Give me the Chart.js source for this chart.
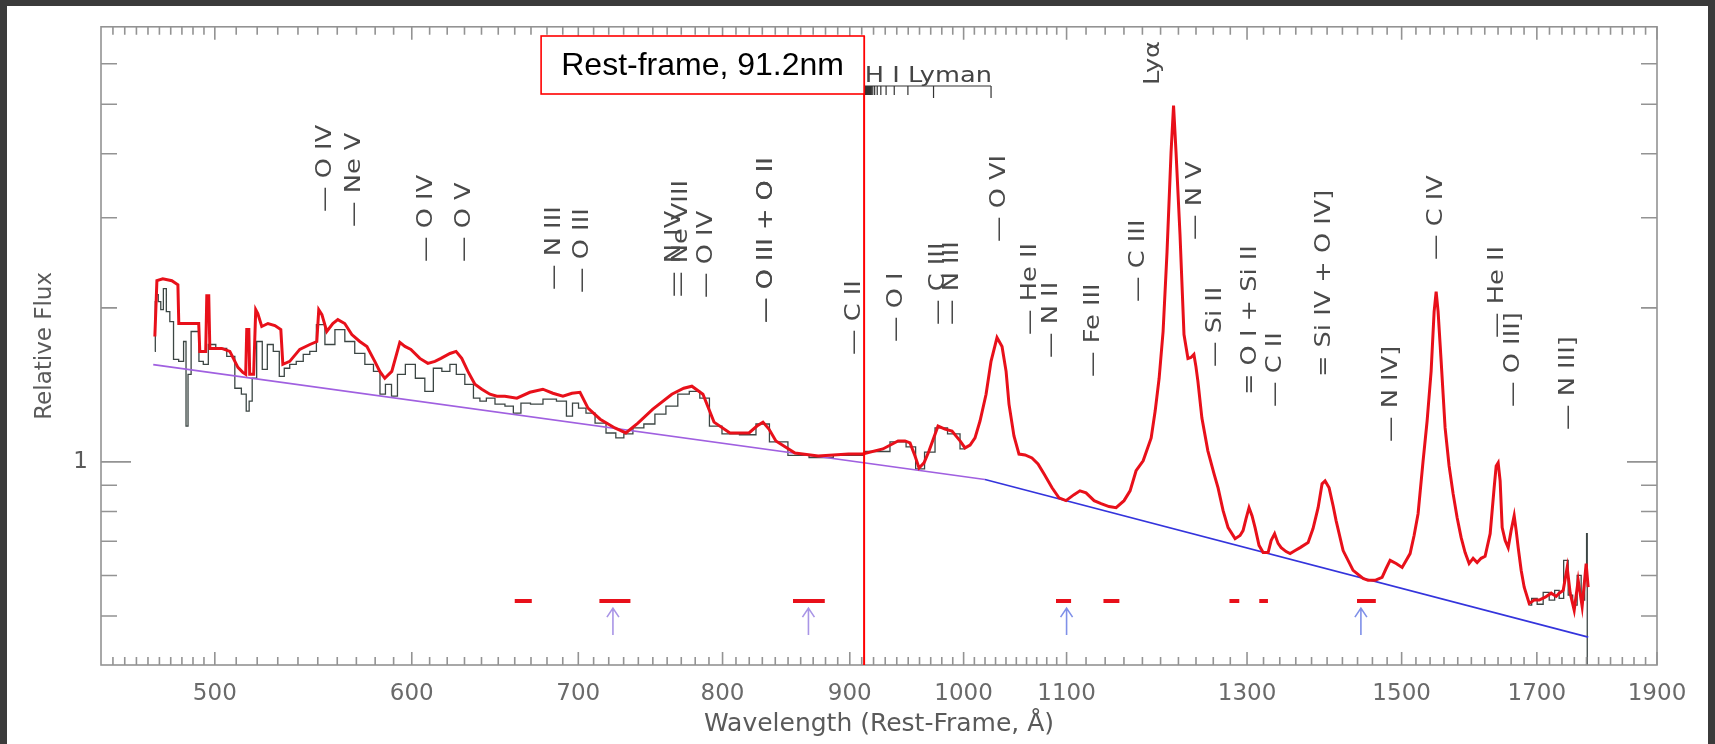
<!DOCTYPE html>
<html>
<head>
<meta charset="utf-8">
<script src="https://cdn.jsdelivr.net/npm/chart.js@4.4.1/dist/chart.umd.min.js"></script>
<style>
html,body{margin:0;padding:0;background:#3b3b3b;overflow:hidden}
canvas{display:block}
</style>
</head>
<body>
<canvas id="c" width="1715" height="744" style="width:1715px;height:744px"></canvas>
<script>
// ---------- DATA (rest-frame wavelength in Å, relative flux) ----------
const redWave = [473.0,473.9,476.5,480.5,483.2,483.6,492.6,493.1,495.8,496.3,497.2,497.7,503.2,507.0,510.8,513.1,514.5,515.0,516.0,516.4,
518.3,519.3,520.3,522.2,525.2,528.6,531.5,532.5,535.9,540.9,546.0,549.5,550.5,552.1,554.6,557.7,560.3,563.9,567.6,571.8,
575.6,579.8,582.5,585.2,589.0,593.4,596.2,599.5,604.5,609.0,613.0,616.4,621.6,625.1,628.4,632.0,636.1,640.2,645.0,649.2,
654.0,661.3,669.3,677.4,683.7,690.1,695.9,701.1,706.3,714.3,724.1,731.5,739.7,750.0,763.3,771.8,777.6,785.6,793.7,805.5,
819.8,825.9,830.5,835.1,840.5,855.5,874.0,898.9,910.8,928.0,941.1,947.2,951.6,956.0,959.6,964.0,968.5,976.6,982.9,989.3,
996.7,1001.3,1006.0,1010.6,1015.3,1021.0,1025.7,1031.4,1036.2,1040.1,1042.9,1047.7,1052.6,1058.5,1065.3,1071.3,1077.2,1085.3,1092.3,1099.4,
1107.6,1113.7,1120.0,1128.4,1135.7,1144.1,1151.6,1160.1,1166.6,1173.1,1180.8,1189.6,1194.0,1198.4,1202.8,1207.2,1211.7,1214.5,1217.3,1221.8,
1226.3,1230.8,1234.2,1237.6,1239.9,1242.2,1246.8,1253.7,1260.9,1265.6,1271.5,1277.4,1285.7,1291.6,1295.2,1298.8,1302.4,1306.0,1309.7,1314.5,
1319.5,1325.6,1329.3,1333.6,1337.9,1341.7,1347.9,1352.9,1359.2,1365.5,1375.6,1381.9,1388.4,1393.5,1397.4,1402.6,1407.8,1411.7,1420.9,1434.1,
1447.4,1454.1,1463.6,1473.1,1478.6,1484.1,1492.4,1500.7,1511.8,1517.4,1523.0,1530.1,1535.8,1541.5,1545.8,1548.7,1551.5,1555.9,1561.6,1567.4,
1573.2,1579.1,1584.9,1590.8,1596.7,1602.6,1608.6,1614.5,1620.5,1628.1,1634.1,1637.2,1640.2,1643.2,1646.3,1650.9,1655.5,1660.0,1664.7,1667.8,
1670.9,1675.5,1680.2,1688.0,1695.8,1703.7,1713.2,1722.7,1730.7,1735.5,1742.0,1748.4,1753.3,1759.8,1766.3,1772.8,1779.4,1782.7];
const redFlux = [1.758,2.260,2.280,2.260,2.219,1.864,1.864,1.644,1.644,2.113,2.113,1.666,1.666,1.644,1.530,1.496,1.483,1.814,1.814,1.483,
1.483,1.984,1.949,1.839,1.864,1.847,1.814,1.551,1.572,1.659,1.696,1.719,1.984,1.940,1.798,1.864,1.897,1.864,1.774,1.719,
1.681,1.572,1.503,1.457,1.503,1.712,1.681,1.659,1.593,1.558,1.572,1.593,1.629,1.644,1.593,1.503,1.418,1.387,1.356,1.344,
1.344,1.332,1.368,1.387,1.362,1.344,1.362,1.368,1.274,1.212,1.165,1.139,1.191,1.268,1.356,1.393,1.406,1.356,1.196,1.139,
1.139,1.175,1.196,1.159,1.099,1.041,1.027,1.036,1.036,1.060,1.099,1.099,1.089,1.027,0.973,0.996,1.051,1.175,1.159,1.149,
1.099,1.065,1.079,1.114,1.202,1.356,1.572,1.750,1.681,1.503,1.297,1.124,1.036,1.032,1.018,0.991,0.948,0.890,0.851,0.840,
0.863,0.878,0.870,0.840,0.829,0.818,0.814,0.840,0.878,0.961,1.005,1.114,1.257,1.457,1.798,2.573,4.027,4.970,4.027,2.776,
1.774,1.593,1.600,1.622,1.537,1.437,1.218,1.051,0.948,0.890,0.803,0.744,0.708,0.718,0.734,0.775,0.814,0.785,0.744,0.687,
0.665,0.665,0.702,0.724,0.693,0.680,0.668,0.662,0.671,0.680,0.696,0.741,0.814,0.906,0.918,0.890,0.821,0.768,0.671,0.614,
0.592,0.587,0.587,0.595,0.619,0.642,0.633,0.622,0.662,0.718,0.792,1.005,1.202,1.503,1.967,2.151,1.967,1.572,1.165,0.982,
0.867,0.778,0.712,0.665,0.633,0.648,0.636,0.648,0.654,0.724,0.890,0.982,0.996,0.918,0.744,0.702,0.680,0.734,0.785,0.734,
0.680,0.614,0.569,0.529,0.537,0.537,0.544,0.554,0.546,0.554,0.561,0.622,0.554,0.513,0.587,0.522,0.633,0.569];

// uncorrected composite (dark histogram), visible where it departs from the red one
const grayWave = [473.0,473.4,473.9,475.1,476.1,477.4,478.7,480.5,482.0,485.1,486.4,487.3,488.2,490.1,492.3,493.1,496.3,497.7,503.2,507.9,
510.8,514.1,515.4,516.9,518.3,521.2,523.7,526.1,529.5,532.0,534.4,537.4,540.9,544.4,547.5,551.1,556.2,561.4,566.5,571.8,
577.2,581.0,584.2,586.9,590.8,593.4,599.5,604.5,610.1,614.1,619.8,623.3,627.2,633.2,637.3,640.8,645.0,651.1,657.0,661.3,
666.3,673.1,681.9,690.1,694.6,697.9,702.4,707.6,714.3,722.1,727.4,732.9,739.7,747.9,755.0,763.3,771.8,779.7,787.0,793.7,
805.5,819.8,830.5,840.5,859.4,874.0,898.9,925.5,942.8,953.5,959.6,969.4,978.4,992.1,1001.3,1300,
1688.0,1695.8,1705.2,1714.8,1724.3,1732.3,1738.7,1746.8,1753.3,1761.4,1767.9,1774.5,1779.4,1780.8,1781.6];
const grayFlux = [1.644,2.057,2.122,2.057,1.984,2.180,1.966,1.880,1.586,1.572,1.719,1.175,1.483,1.798,1.798,1.572,1.551,1.696,1.666,1.608,
1.393,1.356,1.257,1.314,1.457,1.719,1.517,1.696,1.644,1.470,1.524,1.551,1.572,1.622,1.644,1.855,1.696,1.814,1.719,1.629,
1.551,1.503,1.356,1.418,1.344,1.483,1.551,1.457,1.374,1.524,1.503,1.551,1.483,1.418,1.332,1.314,1.332,1.297,1.285,1.245,
1.303,1.297,1.326,1.314,1.229,1.303,1.274,1.245,1.191,1.139,1.114,1.134,1.165,1.186,1.240,1.285,1.356,1.374,1.332,1.175,
1.134,1.130,1.186,1.094,1.030,1.020,1.030,1.048,1.094,1.070,0.969,1.045,1.165,1.134,1.060,null,
0.525,0.541,0.527,0.556,0.537,0.561,0.541,0.642,0.549,0.525,0.600,0.537,0.587,0.724,0.380];

// broken power-law continuum
const contWave = [472.3, 1020.0, 1782.8];
const contFlux = [1.549, 0.924, 0.4546];

// continuum windows (red bars) and their level
const windowStart = [660.0, 713.8, 853.9, 1089.3, 1138.2, 1279.0, 1314.8, 1439.3];
const windowEnd   = [670.5, 734.6, 879.4, 1104.6, 1155.1, 1290.7, 1325.4, 1464.6];
const windowLevel = 0.535;

// arrows
const arrowWave = [722.8, 866.2, 1100.0, 1444.5];
const arrowTail = 0.459, arrowHead = 0.518;

// Lyman limit marker
const restFrameLine = 912;
const lymanLines = [1025.72,972.54,949.74,937.80,930.75,926.23,923.15,920.96,919.35,918.13,917.18,916.43,915.82,915.33,914.92,
914.58,914.29,914.04,913.83,913.64,913.48,913.34,913.21,913.10,913.00,912.91,912.83,912.75,912.68,912.62,912.56,912.46,912.34,912.20,912.05,911.90,911.75];

// emission-line identifications
const lineLabels = ["— O IV","— Ne V","— O IV","— O V","— N III","— O III","— N IV","— Ne VIII","— O IV","— O III + O II",
"— C II","— O I","— C III","— N III","— O VI","— He II","— N II","— Fe III","— C III","Lyα",
"— N V","— Si II","= O I + Si II","— C II","= Si IV + O IV]","— N IV]","— C IV","— He II","— O III]","— N III]"];
const lineWaves = [554,569,608,630,685,703,765,770,788,833,
904,939.6,977,990,1034,1064,1085,1128,1176,1192,
1240,1263,1304,1335,1397,1486,1549,1640,1663,1750];

// axis ticks
const xTickLabels = [500,600,700,800,900,1000,1100,1300,1500,1700,1900];
const yTickLabels = [1];
const yMinorTicks = [0.5,0.6,0.7,0.8,0.9,2,3,4,5,6];

// ---------- LAYOUT (pixel positions of annotation text bottoms) ----------
const labelBottomPx = [212,227,262,262,290,293,297,297,298,323,
355,342,325,325,242,335,358,377,302,85,
240,367,395,407,377,442,260,338,407,430];

const xMinorTicks = [];
for (let v = 455; v < 500; v += 5) xMinorTicks.push(v);
for (let v = 510; v < 1100; v += 10) if (v % 100) xMinorTicks.push(v);
for (let v = 1120; v < 1900; v += 20) if (v % 200 !== 100) xMinorTicks.push(v);

const pts = (w, f) => w.map((x, i) => ({x: x, y: f[i]}));
const windowData = [];
windowStart.forEach((s, i) => {
  windowData.push({x: s, y: windowLevel});
  windowData.push({x: windowEnd[i], y: windowLevel});
  windowData.push({x: windowEnd[i] + 0.5, y: null});
});

function rotText(c, text, x, yb, color) {
  c.save();
  c.translate(x, yb);
  c.rotate(-Math.PI / 2);
  c.scale(1.22, 1);
  c.font = '21px "DejaVu Sans"';
  c.fillStyle = color;
  c.textAlign = 'left';
  c.textBaseline = 'middle';
  c.fillText(text, 0, 0);
  c.restore();
}

const decor = {
  id: 'decor',
  beforeDraw(chart) {
    const c = chart.ctx;
    c.save();
    c.fillStyle = '#3b3b3b';
    c.fillRect(0, 0, chart.width, chart.height);
    c.fillStyle = '#ffffff';
    c.fillRect(7, 6, 1701, 738);
    c.restore();
  },
  afterDatasetsDraw(chart) {
    const c = chart.ctx, xs = chart.scales.x, ys = chart.scales.y, a = chart.chartArea;
    c.save();
    // frame + ticks
    c.strokeStyle = '#939393';
    c.lineWidth = 1.6;
    c.strokeRect(a.left, a.top, a.right - a.left, a.bottom - a.top);
    c.beginPath();
    xMinorTicks.forEach(v => { const p = xs.getPixelForValue(v);
      c.moveTo(p, a.bottom); c.lineTo(p, a.bottom - 8); c.moveTo(p, a.top); c.lineTo(p, a.top + 8); });
    xTickLabels.forEach(v => { const p = xs.getPixelForValue(v);
      c.moveTo(p, a.bottom); c.lineTo(p, a.bottom - 13); c.moveTo(p, a.top); c.lineTo(p, a.top + 13); });
    yMinorTicks.forEach(v => { const p = ys.getPixelForValue(v);
      c.moveTo(a.left, p); c.lineTo(a.left + 16, p); c.moveTo(a.right, p); c.lineTo(a.right - 16, p); });
    yTickLabels.forEach(v => { const p = ys.getPixelForValue(v);
      c.moveTo(a.left, p); c.lineTo(a.left + 30, p); c.moveTo(a.right, p); c.lineTo(a.right - 30, p); });
    c.stroke();

    // arrows
    arrowWave.forEach((w, i) => {
      const p = xs.getPixelForValue(w), yt = ys.getPixelForValue(arrowTail), yh = ys.getPixelForValue(arrowHead);
      c.strokeStyle = i < 2 ? '#a995e6' : '#7f90e8';
      c.lineWidth = 1.6;
      c.beginPath();
      c.moveTo(p, yt); c.lineTo(p, yh);
      c.moveTo(p - 6, yh + 9); c.lineTo(p, yh); c.lineTo(p + 6, yh + 9);
      c.stroke();
    });

    // line identifications
    lineLabels.forEach((t, i) => {
      const p = xs.getPixelForValue(lineWaves[i]);
      rotText(c, t, p, labelBottomPx[i], '#4a4a4a');
      if (i === 9) rotText(c, t, p + 0.8, labelBottomPx[i], '#4a4a4a');
    });

    // H I Lyman series marker
    const lx0 = xs.getPixelForValue(911.75), lx1 = xs.getPixelForValue(1025.72);
    c.strokeStyle = '#333';
    c.lineWidth = 1.2;
    c.beginPath();
    c.moveTo(lx0, 86); c.lineTo(lx1, 86);
    lymanLines.forEach((w, i) => { const p = xs.getPixelForValue(w);
      c.moveTo(p, 86); c.lineTo(p, 86 + (i < 2 ? 12 : 9)); });
    c.stroke();
    c.save();
    c.translate(lx0 + 1, 82);
    c.scale(1.22, 1);
    c.font = '21px "DejaVu Sans"';
    c.fillStyle = '#444';
    c.textAlign = 'left';
    c.textBaseline = 'alphabetic';
    c.fillText('H I Lyman', 0, 0);
    c.restore();

    // rest-frame 912 Å line + box
    const rx = xs.getPixelForValue(restFrameLine);
    c.strokeStyle = '#ff0000';
    c.lineWidth = 2;
    c.beginPath();
    c.moveTo(rx, 36); c.lineTo(rx, a.bottom);
    c.stroke();
    const bx = rx - 323, by = 36, bw = 323, bh = 58;
    c.fillStyle = '#ffffff';
    c.fillRect(bx, by, bw, bh);
    c.lineWidth = 1.6;
    c.strokeRect(bx, by, bw, bh);
    c.fillStyle = '#000';
    c.font = '32px "Liberation Sans", Arial, sans-serif';
    c.textAlign = 'center';
    c.textBaseline = 'middle';
    c.fillText('Rest-frame, 91.2nm', bx + bw / 2, by + bh / 2 + 1);
    c.restore();
  }
};

new Chart(document.getElementById('c'), {
  type: 'line',
  data: {
    datasets: [
      {label: 'Composite (corrected)', data: pts(redWave, redFlux), borderColor: '#e8101a', borderWidth: 3,
       pointRadius: 0, tension: 0, order: 0},
      {label: 'Continuum windows', data: windowData, borderColor: '#e8101a', borderWidth: 4, borderCapStyle: 'butt',
       pointRadius: 0, spanGaps: false, order: 1},
      {label: 'Power-law continuum', data: pts(contWave, contFlux), borderColor: '#3838dc', borderWidth: 1.6,
       pointRadius: 0, order: 2,
       segment: {borderColor: ctx => ctx.p0DataIndex === 0 ? '#a060e0' : '#3434dc'}},
      {label: 'Composite', data: pts(grayWave, grayFlux), borderColor: '#3c4644', borderWidth: 1.3,
       pointRadius: 0, stepped: 'middle', spanGaps: false, order: 3}
    ]
  },
  options: {
    responsive: false,
    animation: false,
    layout: {padding: {left: 0, top: 24, right: 58, bottom: 0}},
    plugins: {legend: {display: false}, tooltip: {enabled: false}},
    scales: {
      x: {
        type: 'logarithmic', position: 'bottom', min: 450, max: 1900, bounds: 'data',
        grid: {display: false, drawTicks: false}, border: {display: false},
        ticks: {autoSkip: false, maxRotation: 0, minRotation: 0, padding: 15, color: '#6a6a6a',
                font: {family: 'DejaVu Sans', size: 23}, callback: v => String(v)},
        afterBuildTicks: s => { s.ticks = xTickLabels.map(v => ({value: v})); },
        afterFit: s => { s.height = 79; },
        title: {display: true, text: 'Wavelength (Rest-Frame, Å)', color: '#5a5a5a',
                font: {family: 'DejaVu Sans', size: 25}, padding: {top: 0, bottom: 5}}
      },
      y: {
        type: 'logarithmic', position: 'left', min: 0.401, max: 7.083, bounds: 'data',
        grid: {display: false, drawTicks: false}, border: {display: false},
        ticks: {autoSkip: false, padding: 13, color: '#5a5a5a',
                font: {family: 'DejaVu Sans', size: 23}, callback: v => String(v)},
        afterBuildTicks: s => { s.ticks = yTickLabels.map(v => ({value: v})); },
        afterFit: s => { s.width = 101; },
        title: {display: true, text: 'Relative Flux', color: '#5a5a5a',
                font: {family: 'DejaVu Sans', size: 23}, padding: {top: 31, bottom: 0}}
      }
    }
  },
  plugins: [decor]
});
</script>
</body>
</html>
